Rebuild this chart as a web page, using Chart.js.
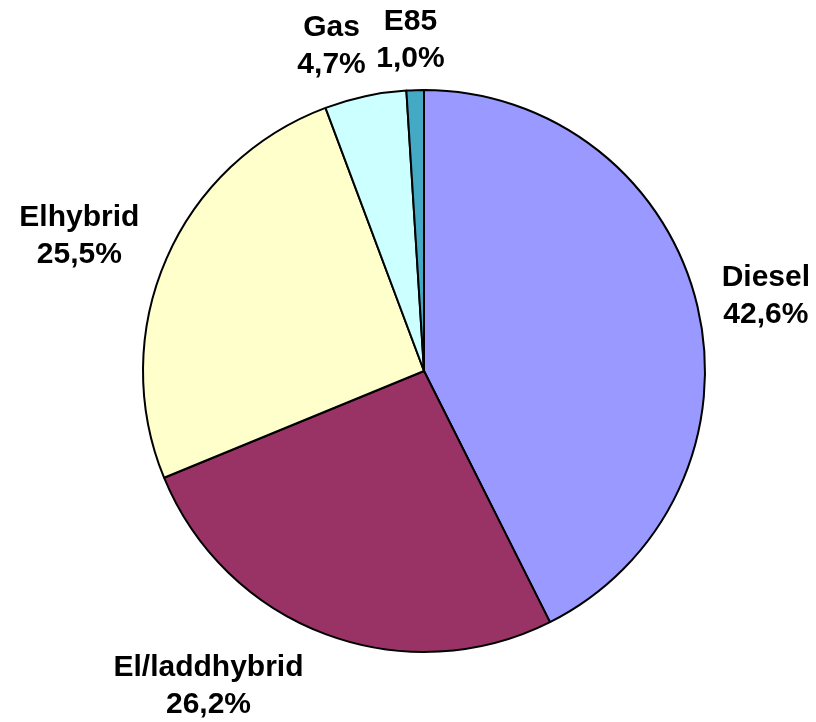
<!DOCTYPE html>
<html>
<head>
<meta charset="utf-8">
<script src="https://cdn.jsdelivr.net/npm/chart.js@4/dist/chart.umd.min.js"></script>
<style>
  html, body { margin: 0; padding: 0; background: #ffffff; }
  #wrap { width: 816px; height: 722px; }
</style>
</head>
<body>
<div id="wrap"><canvas id="grafico"></canvas></div>
<script>
// Datos del gráfico
var categorias = ['Diesel', 'El/laddhybrid', 'Elhybrid', 'Gas', 'E85'];
var valores = [42.6, 26.2, 25.5, 4.7, 1.0];
var colores = ['#9999FF', '#993366', '#FFFFCC', '#CCFFFF', '#44A9C4'];

// Ajustes finos de las etiquetas (px), una por categoría
var ajusteEtiquetas = [[4, 4], [-76, -3], [-12, 1], [-22, 8], [-3, 9]];

// Plugin para dibujar las etiquetas fuera del pastel
var etiquetasPlugin = {
    id: 'etiquetas',
    afterDatasetsDraw: function(chart) {
        var ctx = chart.ctx;
        var meta = chart.getDatasetMeta(0);
        var lineH = 37;
        var gap = 22;
        ctx.save();
        ctx.font = 'bold 30px "Liberation Sans", Arial, sans-serif';
        ctx.fillStyle = '#000000';
        ctx.textAlign = 'center';
        ctx.textBaseline = 'middle';
        meta.data.forEach(function(arc, i) {
            var p = arc.getProps(['x', 'y', 'startAngle', 'endAngle', 'outerRadius'], true);
            var mid = (p.startAngle + p.endAngle) / 2;
            var c = Math.cos(mid), s = Math.sin(mid);
            var linea1 = categorias[i];
            var linea2 = valores[i].toFixed(1).replace('.', ',') + '%';
            var w = Math.max(ctx.measureText(linea1).width, ctx.measureText(linea2).width);
            var h = lineH * 2;
            var cx = p.x + (p.outerRadius + gap) * c + (w / 2) * c + ajusteEtiquetas[i][0];
            var cy = p.y + (p.outerRadius + gap) * s + (h / 2) * s + ajusteEtiquetas[i][1];
            ctx.fillText(linea1, cx, cy - lineH / 2);
            ctx.fillText(linea2, cx, cy + lineH / 2);
        });
        ctx.restore();
    }
};

var ctxPie = document.getElementById('grafico').getContext('2d');
var grafico = new Chart(ctxPie, {
    type: 'pie',
    data: {
        labels: categorias,
        datasets: [{
            data: valores,
            backgroundColor: colores,
            borderColor: '#000000',
            borderWidth: 2
        }]
    },
    options: {
        responsive: true,
        maintainAspectRatio: false,
        animation: false,
        layout: { padding: { top: 89, bottom: 69, left: 142, right: 110 } },
        plugins: {
            legend: { display: false },
            tooltip: { enabled: false }
        }
    },
    plugins: [etiquetasPlugin]
});
</script>
</body>
</html>
